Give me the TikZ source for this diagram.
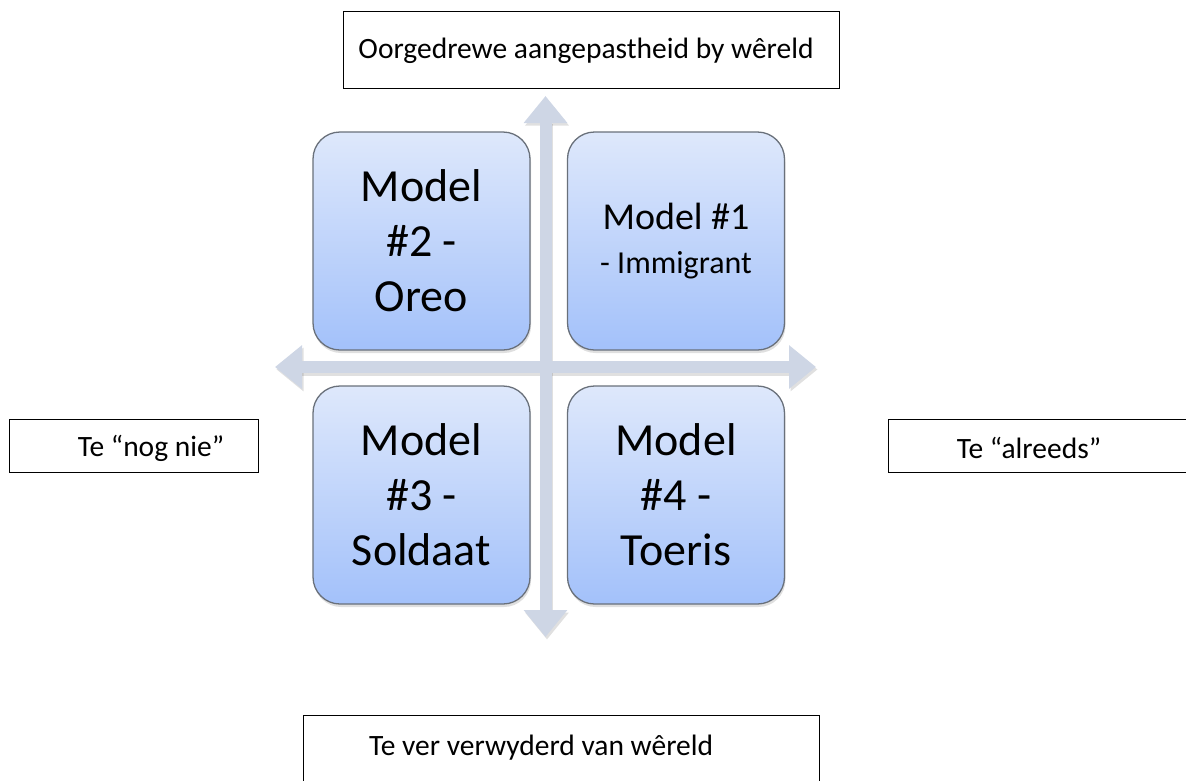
\documentclass[tikz,border=0pt]{standalone}
\usepackage{fontspec}
\setmainfont{Carlito}
\usetikzlibrary{arrows.meta,shadows}
\definecolor{ejegris}{RGB}{206,214,229}
\definecolor{cajaarriba}{RGB}{222,232,251}
\definecolor{cajaabajo}{RGB}{163,193,250}
\definecolor{bordecaja}{RGB}{105,112,122}

\begin{document}
\begin{tikzpicture}[x=1pt,y=-1pt,
    modelo/.style={draw=bordecaja,line width=1.3pt,rounded corners=27pt,top color=cajaarriba,bottom color=cajaabajo,
        minimum width=217pt,minimum height=218pt,inner sep=0pt,align=center,
        drop shadow={opacity=0.25,shadow xshift=1pt,shadow yshift=-3pt}},
    etiqueta/.style={draw,line width=1pt,inner sep=0pt},
    texto/.style={inner sep=0pt,font=\fontsize{29.5}{35}\selectfont},
    eje/.style={ejegris,line width=12pt,{Triangle[width=42pt,length=27pt]}-{Triangle[width=42pt,length=27pt]}}]
            \useasboundingbox (0,0) rectangle (1186,780);
            \clip (0,0) rectangle (1186,780);
            % ejes
            \coordinate (boven) at (545.5,96);
            \coordinate (onder) at (545.5,637);
            \coordinate (links) at (275,367);
            \coordinate (regs) at (816,367);
            \draw[eje,black,opacity=0.12,transform canvas={shift={(1.5pt,-2.5pt)}}] (onder) -- (boven);
            \draw[eje,black,opacity=0.12,transform canvas={shift={(1.5pt,-2.5pt)}}] (links) -- (regs);
            \draw[eje] (onder) -- (boven); % eje vertical
            \draw[eje] (links) -- (regs); % eje horizontal
            % modelos
            \node[modelo,font=\fontsize{46}{55}\selectfont] (m2) at (421.5,241) {Model\\\#2 -\\Oreo};
            \node[modelo,font=\fontsize{38}{44}\selectfont] (m1) at (676,241) {Model \#1\\{\fontsize{32}{44}\selectfont - Immigrant}};
            \node[modelo,font=\fontsize{46}{55}\selectfont] (m3) at (421.5,495) {Model\\\#3 -\\Soldaat};
            \node[modelo,font=\fontsize{46}{55}\selectfont] (m4) at (676,495) {Model\\\#4 -\\Toeris};
            % etiquetas
            \node[etiqueta,minimum width=496pt,minimum height=77pt] (bo) at (591,49.5) {};
            \node[texto] (botxt) at (586,51) {Oorgedrewe aangepastheid by wêreld};
            \node[etiqueta,minimum width=249pt,minimum height=53pt] (li) at (133.5,445.5) {};
            \node[texto] (litxt) at (151,448) {Te “nog nie”};
            \node[etiqueta,minimum width=312pt,minimum height=53pt] (re) at (1044,445.5) {};
            \node[texto] (retxt) at (1029,448) {Te “alreeds”};
            \node[etiqueta,minimum width=516pt,minimum height=85pt] (on) at (561,757.5) {};
            \node[texto] (ontxt) at (541,748) {Te ver verwyderd van wêreld};
\end{tikzpicture}
\end{document}
